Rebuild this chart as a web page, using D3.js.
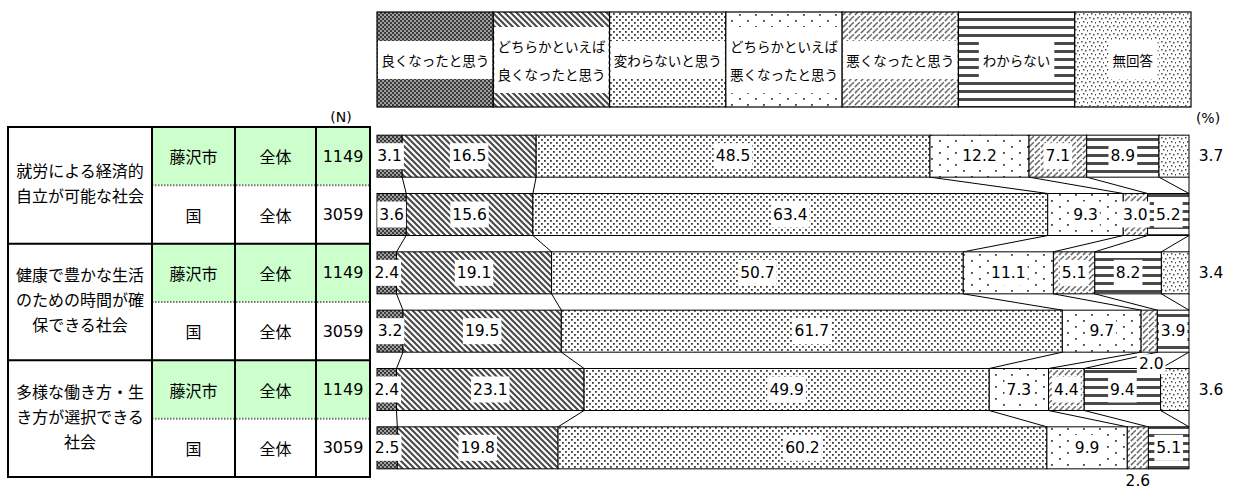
<!DOCTYPE html>
<html lang="ja">
<head>
<meta charset="utf-8">
<script src="https://cdn.jsdelivr.net/npm/d3@7"></script>
<style>
  html, body { margin: 0; padding: 0; background: #fff; }
  svg { display: block; }
  text { font-family: "DejaVu Sans", "Noto Sans CJK JP", sans-serif; fill: #000; }
  .jp { font-family: "Noto Sans CJK JP", sans-serif; }
</style>
</head>
<body>
<svg id="chart" width="1236" height="489"></svg>
<script>
// Survey themes (row groups), respondent groups and sample sizes
const themes = [
  ["就労による経済的", "自立が可能な社会"],
  ["健康で豊かな生活", "のための時間が確", "保できる社会"],
  ["多様な働き方・生", "き方が選択できる", "社会"]
];
const regions = ["藤沢市", "国"];
const segmentLabel = "全体";
const sampleSizes = [1149, 3059, 1149, 3059, 1149, 3059];

// Answer categories (legend order)
const seriesNames = [
  ["良くなったと思う"],
  ["どちらかといえば", "良くなったと思う"],
  ["変わらないと思う"],
  ["どちらかといえば", "悪くなったと思う"],
  ["悪くなったと思う"],
  ["わからない"],
  ["無回答"]
];

// Percentages per answer, one value per bar row (top to bottom)
const better       = [3.1, 3.6, 2.4, 3.2, 2.4, 2.5];
const ratherBetter = [16.5, 15.6, 19.1, 19.5, 23.1, 19.8];
const unchanged    = [48.5, 63.4, 50.7, 61.7, 49.9, 60.2];
const ratherWorse  = [12.2, 9.3, 11.1, 9.7, 7.3, 9.9];
const worse        = [7.1, 3.0, 5.1, 2.0, 4.4, 2.6];
const unknown      = [8.9, 5.2, 8.2, 3.9, 9.4, 5.1];
const noAnswer     = [3.7, 0, 3.4, 0, 3.6, 0];

const seriesValues = [better, ratherBetter, unchanged, ratherWorse, worse, unknown, noAnswer];
const rowCount = sampleSizes.length;

const svg = d3.select("#chart");
const defs = svg.append("defs");

// ---- fill patterns, one per answer ----
function pattern(id, w, h, draw) {
  const p = defs.append("pattern").attr("id", id)
    .attr("patternUnits", "userSpaceOnUse").attr("width", w).attr("height", h);
  draw(p);
}
pattern("p0", 4, 4, p => {
  p.append("rect").attr("width", 4).attr("height", 4).attr("fill", "#a0a0a0");
  p.append("rect").attr("width", 2).attr("height", 2).attr("fill", "#3a3a3a");
  p.append("rect").attr("x", 2).attr("y", 2).attr("width", 2).attr("height", 2).attr("fill", "#3a3a3a");
});
pattern("p1", 6, 6, p => {
  p.append("rect").attr("width", 6).attr("height", 6).attr("fill", "#fff");
  p.append("path").attr("d", "M-1,-1 L7,7 M-4,2 L2,8 M4,-2 L8,2")
    .attr("stroke", "#4a4a4a").attr("stroke-width", 2.1);
});
pattern("p2", 6, 6, p => {
  p.append("rect").attr("width", 6).attr("height", 6).attr("fill", "#fff");
  p.append("rect").attr("x", 1).attr("y", 1).attr("width", 1.8).attr("height", 1.8).attr("fill", "#3a3a3a");
  p.append("rect").attr("x", 4).attr("y", 4).attr("width", 1.8).attr("height", 1.8).attr("fill", "#3a3a3a");
});
pattern("p3", 16, 12, p => {
  p.append("rect").attr("width", 16).attr("height", 12).attr("fill", "#fff");
  p.append("rect").attr("x", 3).attr("y", 2).attr("width", 1.8).attr("height", 1.8).attr("fill", "#3a3a3a");
  p.append("rect").attr("x", 11).attr("y", 8).attr("width", 1.8).attr("height", 1.8).attr("fill", "#3a3a3a");
});
pattern("p4", 6, 6, p => {
  p.append("rect").attr("width", 6).attr("height", 6).attr("fill", "#fff");
  p.append("path").attr("d", "M-1,7 L7,-1 M-4,4 L2,-2 M4,8 L8,4")
    .attr("stroke", "#666").attr("stroke-width", 1.5).attr("stroke-dasharray", "4,1.5");
});
pattern("p5", 8, 8, p => {
  p.append("rect").attr("width", 8).attr("height", 8).attr("fill", "#fff");
  p.append("rect").attr("y", 2).attr("width", 8).attr("height", 3).attr("fill", "#4a4a4a");
});
pattern("p6", 8, 8, p => {
  p.append("rect").attr("width", 8).attr("height", 8).attr("fill", "#fff");
  [[1, 1], [5, 2], [3, 5], [7, 6]].forEach(([cx, cy]) =>
    p.append("rect").attr("x", cx).attr("y", cy).attr("width", 1.5).attr("height", 1.5).attr("fill", "#4a4a4a"));
});

// ---- scales ----
const x = d3.scaleLinear().domain([0, 100]).range([377, 1189]).clamp(true);
const rowBand = d3.scaleBand().domain(d3.range(rowCount)).range([127, 477]).padding(0);
const y = d3.scaleBand().domain(d3.range(rowCount)).range([127, 477])
  .paddingInner(0.28).paddingOuter(0.14);
const legendX = d3.scaleBand().domain(d3.range(seriesNames.length)).range([377, 1191]).padding(0);

// ---- stacked layout ----
const rows = d3.range(rowCount).map(r => {
  let acc = 0;
  return seriesValues.map((vals, s) => {
    const v = vals[r];
    const seg = { row: r, series: s, value: v, x0: acc, x1: acc + v };
    acc += v;
    return seg;
  });
});

// ---- connector lines between consecutive bars ----
const connectors = svg.append("g");
for (let r = 0; r < rowCount - 1; r++) {
  rows[r].forEach((seg, s) => {
    const next = rows[r + 1][s];
    connectors.append("line")
      .attr("x1", x(seg.x1)).attr("y1", y(r) + y.bandwidth())
      .attr("x2", x(next.x1)).attr("y2", y(r + 1))
      .attr("stroke", "#000").attr("stroke-width", 1);
  });
}

// ---- bars ----
const bars = svg.append("g");
rows.forEach(segs => {
  bars.selectAll(null).data(segs.filter(d => d.value > 0)).enter().append("rect")
    .attr("x", d => x(d.x0))
    .attr("y", d => y(d.row))
    .attr("width", d => x(d.x1) - x(d.x0))
    .attr("height", y.bandwidth())
    .attr("fill", d => `url(#p${d.series})`)
    .attr("stroke", "#000").attr("stroke-width", 1);
});

// ---- value labels with white boxes ----
const labelLayer = svg.append("g");
function boxedText(g, tx, ty, str, opts = {}) {
  const t = g.append("text").attr("x", tx).attr("y", ty)
    .attr("text-anchor", "middle").attr("dominant-baseline", "central")
    .attr("font-size", opts.size || 15.5).text(str);
  if (opts.box !== false) {
    const bb = t.node().getBBox();
    const padX = opts.padX ?? 2, padY = opts.padY ?? 4;
    g.insert("rect", () => t.node())
      .attr("x", bb.x - padX).attr("y", bb.y - padY)
      .attr("width", bb.width + padX * 2).attr("height", bb.height + padY * 2)
      .attr("fill", "#fff");
  }
  return t;
}
const lastSeries = seriesNames.length - 1;
rows.forEach(segs => {
  segs.filter(d => d.value > 0).forEach(d => {
    const cx = (x(d.x0) + x(d.x1)) / 2;
    const cy = y(d.row) + y.bandwidth() / 2;
    const str = d.value.toFixed(1);
    if (d.series === lastSeries) {
      // no-answer share sits to the right of the bar
      boxedText(labelLayer, x(100) + 22, cy, str, { box: false });
    } else if (d.series > 0 && d.value < 2.8) {
      // slivers get their label under the bar
      boxedText(labelLayer, cx + (d.row === 3 ? 2 : 0), y(d.row) + y.bandwidth() + 12, str, { padY: 1 });
    } else {
      boxedText(labelLayer, cx, cy, str);
    }
  });
});

// ---- legend ----
const legend = svg.append("g");
seriesNames.forEach((lines, s) => {
  const lx = legendX(s), lw = legendX.bandwidth();
  legend.append("rect").attr("x", lx).attr("y", 12).attr("width", lw).attr("height", 95)
    .attr("fill", `url(#p${s})`).attr("stroke", "#000").attr("stroke-width", 1.2);
  const g = legend.append("g");
  const cy = 60, lh = 28;
  const texts = lines.map((ln, i) => g.append("text").attr("class", "jp")
    .attr("x", lx + lw / 2).attr("y", cy + (i - (lines.length - 1) / 2) * lh)
    .attr("text-anchor", "middle").attr("dominant-baseline", "central")
    .attr("font-size", 13.5).text(ln));
  const boxes = texts.map(t => t.node().getBBox());
  const bx0 = d3.min(boxes, b => b.x) - 4, bx1 = d3.max(boxes, b => b.x + b.width) + 4;
  const by0 = d3.min(boxes, b => b.y) - 9, by1 = d3.max(boxes, b => b.y + b.height) + 9;
  g.insert("rect", "text").attr("x", Math.max(bx0, lx + 1)).attr("y", by0)
    .attr("width", Math.min(bx1, lx + lw - 1) - Math.max(bx0, lx + 1)).attr("height", by1 - by0)
    .attr("fill", "#fff");
});

svg.append("text").attr("x", 1208).attr("y", 118).attr("text-anchor", "middle")
  .attr("dominant-baseline", "central").attr("font-size", 14).text("(%)");
svg.append("text").attr("x", 341).attr("y", 117).attr("text-anchor", "middle")
  .attr("dominant-baseline", "central").attr("font-size", 14).text("(N)");

// ---- left table ----
const cols = [8, 152, 235, 316, 370];
const table = svg.append("g");
// green fill for 藤沢市 rows
d3.range(rowCount).filter(r => r % 2 === 0).forEach(r => {
  table.append("rect").attr("x", cols[1]).attr("y", rowBand(r))
    .attr("width", cols[4] - cols[1]).attr("height", rowBand.bandwidth())
    .attr("fill", "#ccffcc");
});
// cell texts
d3.range(rowCount).forEach(r => {
  const cy = rowBand(r) + rowBand.bandwidth() / 2;
  table.append("text").attr("class", "jp").attr("x", (cols[1] + cols[2]) / 2).attr("y", cy)
    .attr("text-anchor", "middle").attr("dominant-baseline", "central")
    .attr("font-size", 16).text(regions[r % 2]);
  table.append("text").attr("class", "jp").attr("x", (cols[2] + cols[3]) / 2).attr("y", cy)
    .attr("text-anchor", "middle").attr("dominant-baseline", "central")
    .attr("font-size", 16).text(segmentLabel);
  table.append("text").attr("x", (cols[3] + cols[4]) / 2).attr("y", cy)
    .attr("text-anchor", "middle").attr("dominant-baseline", "central")
    .attr("font-size", 16).text(sampleSizes[r]);
});
themes.forEach((lines, gi) => {
  const top = rowBand(gi * 2), bottom = rowBand(gi * 2 + 1) + rowBand.bandwidth();
  const cy = (top + bottom) / 2 - 3;
  lines.forEach((ln, i) => {
    table.append("text").attr("class", "jp").attr("x", (cols[0] + cols[1]) / 2)
      .attr("y", cy + (i - (lines.length - 1) / 2) * 25)
      .attr("text-anchor", "middle").attr("dominant-baseline", "central")
      .attr("font-size", 16).text(ln);
  });
});
// grid lines
d3.range(rowCount).filter(r => r % 2 === 1).forEach(r => {
  table.append("line").attr("x1", cols[1]).attr("x2", cols[4])
    .attr("y1", rowBand(r)).attr("y2", rowBand(r))
    .attr("stroke", "#777").attr("stroke-width", 2).attr("stroke-dasharray", "1.5,1.5");
});
d3.range(2, rowCount, 2).forEach(r => {
  table.append("line").attr("x1", cols[0]).attr("x2", cols[4])
    .attr("y1", rowBand(r)).attr("y2", rowBand(r))
    .attr("stroke", "#000").attr("stroke-width", 2);
});
cols.slice(1, 4).forEach(cx => {
  table.append("line").attr("x1", cx).attr("x2", cx).attr("y1", 127).attr("y2", 477)
    .attr("stroke", "#000").attr("stroke-width", 2);
});
table.append("rect").attr("x", cols[0]).attr("y", 127)
  .attr("width", cols[4] - cols[0]).attr("height", 350)
  .attr("fill", "none").attr("stroke", "#000").attr("stroke-width", 2);
</script>
</body>
</html>
